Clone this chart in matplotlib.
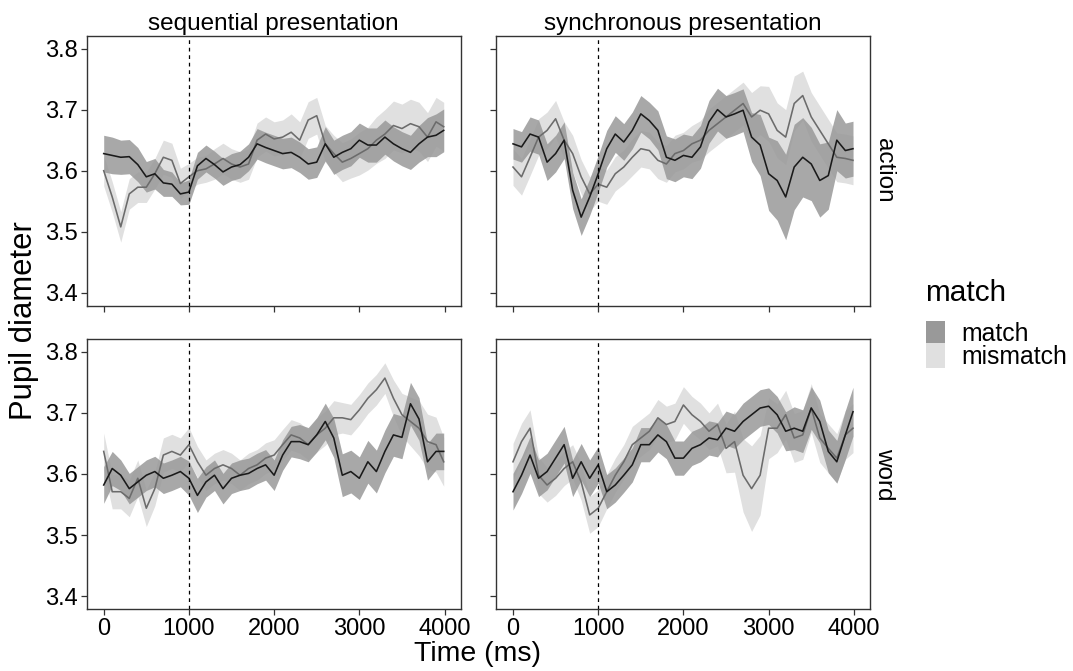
import numpy as np
import matplotlib
matplotlib.use("Agg")
import matplotlib.pyplot as plt
from matplotlib.patches import Rectangle

plt.rcParams['font.family'] = ['Liberation Sans', 'DejaVu Sans']

# ---------------- data ----------------
time_ms = [0, 100, 200, 300, 400, 500, 600, 700, 800, 900,
           1000, 1100, 1200, 1300, 1400, 1500, 1600, 1700, 1800, 1900,
           2000, 2100, 2200, 2300, 2400, 2500, 2600, 2700, 2800, 2900,
           3000, 3100, 3200, 3300, 3400, 3500, 3600, 3700, 3800, 3900, 3990]

columns = ["sequential presentation", "synchronous presentation"]
rows = ["action", "word"]
conditions = ["match", "mismatch"]

# sequential / action
seq_action_match = [3.628, 3.625, 3.622, 3.623, 3.610, 3.590, 3.595, 3.580, 3.578, 3.562,
                    3.565, 3.608, 3.620, 3.610, 3.598, 3.606, 3.610, 3.622, 3.644, 3.638,
                    3.633, 3.628, 3.630, 3.622, 3.611, 3.614, 3.644, 3.622, 3.630, 3.636,
                    3.650, 3.642, 3.642, 3.655, 3.644, 3.636, 3.630, 3.644, 3.655, 3.658, 3.666]
seq_action_match_se = [0.030, 0.030, 0.028, 0.028, 0.028, 0.025, 0.025, 0.022, 0.020, 0.018,
                       0.020, 0.022, 0.022, 0.022, 0.022, 0.022, 0.022, 0.022, 0.025, 0.025,
                       0.025, 0.025, 0.025, 0.025, 0.025, 0.025, 0.028, 0.028, 0.028, 0.028,
                       0.028, 0.028, 0.028, 0.028, 0.028, 0.028, 0.028, 0.030, 0.032, 0.035, 0.035]
seq_action_mismatch = [3.600, 3.557, 3.508, 3.562, 3.573, 3.573, 3.595, 3.622, 3.617, 3.579,
                       3.590, 3.600, 3.603, 3.611, 3.620, 3.611, 3.606, 3.611, 3.650, 3.660,
                       3.652, 3.655, 3.663, 3.650, 3.683, 3.690, 3.644, 3.628, 3.614, 3.620,
                       3.628, 3.636, 3.650, 3.660, 3.674, 3.669, 3.677, 3.672, 3.655, 3.680, 3.672]
seq_action_mismatch_se = [0.025, 0.025, 0.025, 0.025, 0.025, 0.025, 0.025, 0.028, 0.028, 0.025,
                          0.022, 0.022, 0.022, 0.025, 0.025, 0.025, 0.025, 0.025, 0.028, 0.028,
                          0.028, 0.028, 0.030, 0.030, 0.030, 0.030, 0.030, 0.030, 0.032, 0.032,
                          0.035, 0.035, 0.038, 0.040, 0.040, 0.040, 0.040, 0.040, 0.040, 0.040, 0.040]

# synchronous / action
syn_action_match = [3.644, 3.639, 3.660, 3.655, 3.614, 3.628, 3.650, 3.568, 3.524, 3.557,
                    3.595, 3.636, 3.660, 3.647, 3.666, 3.693, 3.682, 3.666, 3.622, 3.617,
                    3.625, 3.622, 3.639, 3.680, 3.700, 3.688, 3.693, 3.699, 3.655, 3.642,
                    3.595, 3.584, 3.557, 3.606, 3.622, 3.611, 3.584, 3.592, 3.650, 3.633, 3.636]
syn_action_match_se = [0.025, 0.025, 0.028, 0.028, 0.030, 0.030, 0.030, 0.030, 0.030, 0.030,
                       0.030, 0.030, 0.030, 0.030, 0.030, 0.030, 0.030, 0.032, 0.035, 0.035,
                       0.035, 0.035, 0.035, 0.035, 0.035, 0.035, 0.035, 0.035, 0.040, 0.050,
                       0.060, 0.065, 0.070, 0.070, 0.065, 0.060, 0.060, 0.055, 0.050, 0.045, 0.045]
syn_action_mismatch = [3.606, 3.590, 3.622, 3.655, 3.666, 3.685, 3.650, 3.628, 3.590, 3.562,
                       3.578, 3.573, 3.595, 3.606, 3.622, 3.636, 3.633, 3.617, 3.611, 3.628,
                       3.633, 3.644, 3.650, 3.666, 3.677, 3.688, 3.699, 3.710, 3.688, 3.699,
                       3.693, 3.666, 3.655, 3.710, 3.723, 3.688, 3.666, 3.644, 3.622, 3.620, 3.617]
syn_action_mismatch_se = [0.030, 0.030, 0.030, 0.030, 0.030, 0.030, 0.030, 0.030, 0.028, 0.028,
                          0.028, 0.028, 0.028, 0.028, 0.030, 0.030, 0.030, 0.030, 0.030, 0.030,
                          0.030, 0.030, 0.032, 0.035, 0.035, 0.035, 0.035, 0.035, 0.040, 0.040,
                          0.045, 0.045, 0.045, 0.045, 0.040, 0.040, 0.040, 0.040, 0.040, 0.040, 0.040]

# sequential / word
seq_word_match = [3.582, 3.609, 3.598, 3.576, 3.587, 3.598, 3.604, 3.593, 3.598, 3.604,
                  3.593, 3.565, 3.587, 3.598, 3.576, 3.593, 3.598, 3.601, 3.609, 3.615,
                  3.598, 3.631, 3.653, 3.653, 3.648, 3.664, 3.686, 3.659, 3.598, 3.604,
                  3.593, 3.620, 3.604, 3.637, 3.664, 3.660, 3.715, 3.690, 3.620, 3.637, 3.637]
seq_word_match_se = [0.030, 0.028, 0.025, 0.025, 0.025, 0.025, 0.025, 0.025, 0.025, 0.025,
                     0.028, 0.028, 0.025, 0.025, 0.025, 0.025, 0.025, 0.025, 0.025, 0.025,
                     0.025, 0.025, 0.025, 0.028, 0.028, 0.028, 0.030, 0.032, 0.035, 0.035,
                     0.035, 0.035, 0.035, 0.035, 0.035, 0.035, 0.035, 0.035, 0.030, 0.030, 0.030]
seq_word_mismatch = [3.637, 3.571, 3.571, 3.560, 3.593, 3.544, 3.576, 3.631, 3.637, 3.631,
                     3.648, 3.620, 3.598, 3.609, 3.615, 3.609, 3.598, 3.609, 3.615, 3.626,
                     3.631, 3.648, 3.664, 3.659, 3.648, 3.664, 3.675, 3.692, 3.692, 3.689,
                     3.705, 3.724, 3.738, 3.757, 3.724, 3.697, 3.686, 3.675, 3.653, 3.648, 3.620]
seq_word_mismatch_se = [0.030, 0.028, 0.028, 0.030, 0.030, 0.030, 0.028, 0.028, 0.028, 0.028,
                        0.028, 0.025, 0.025, 0.025, 0.025, 0.025, 0.025, 0.025, 0.025, 0.025,
                        0.025, 0.025, 0.025, 0.025, 0.025, 0.028, 0.028, 0.028, 0.025, 0.025,
                        0.025, 0.025, 0.025, 0.025, 0.030, 0.035, 0.040, 0.045, 0.045, 0.045, 0.040]

# synchronous / word
syn_word_match = [3.571, 3.598, 3.631, 3.593, 3.604, 3.626, 3.648, 3.593, 3.620, 3.593,
                  3.615, 3.571, 3.582, 3.598, 3.615, 3.648, 3.648, 3.664, 3.653, 3.626,
                  3.626, 3.642, 3.648, 3.659, 3.656, 3.675, 3.670, 3.686, 3.697, 3.708,
                  3.711, 3.697, 3.670, 3.675, 3.670, 3.708, 3.686, 3.637, 3.620, 3.664, 3.702]
syn_word_match_se = [0.030, 0.030, 0.030, 0.030, 0.030, 0.030, 0.030, 0.030, 0.030, 0.030,
                     0.030, 0.028, 0.028, 0.028, 0.028, 0.028, 0.028, 0.028, 0.028, 0.028,
                     0.028, 0.028, 0.028, 0.028, 0.028, 0.028, 0.028, 0.030, 0.030, 0.030,
                     0.030, 0.030, 0.032, 0.035, 0.035, 0.035, 0.035, 0.035, 0.035, 0.040, 0.040]
syn_word_mismatch = [3.620, 3.653, 3.675, 3.598, 3.582, 3.593, 3.609, 3.620, 3.587, 3.533,
                     3.544, 3.571, 3.598, 3.620, 3.648, 3.659, 3.670, 3.692, 3.681, 3.686,
                     3.713, 3.697, 3.686, 3.670, 3.681, 3.642, 3.653, 3.598, 3.576, 3.598,
                     3.675, 3.675, 3.697, 3.659, 3.664, 3.708, 3.659, 3.642, 3.626, 3.664, 3.675]
syn_word_mismatch_se = [0.030, 0.030, 0.030, 0.030, 0.028, 0.028, 0.028, 0.028, 0.030, 0.030,
                        0.030, 0.028, 0.028, 0.028, 0.030, 0.030, 0.030, 0.030, 0.030, 0.030,
                        0.030, 0.030, 0.030, 0.030, 0.035, 0.040, 0.050, 0.060, 0.070, 0.065,
                        0.050, 0.040, 0.040, 0.040, 0.040, 0.040, 0.040, 0.040, 0.040, 0.040, 0.040]

panel_data = {
    ("action", "sequential presentation"): (seq_action_match, seq_action_match_se,
                                           seq_action_mismatch, seq_action_mismatch_se),
    ("action", "synchronous presentation"): (syn_action_match, syn_action_match_se,
                                            syn_action_mismatch, syn_action_mismatch_se),
    ("word", "sequential presentation"): (seq_word_match, seq_word_match_se,
                                         seq_word_mismatch, seq_word_mismatch_se),
    ("word", "synchronous presentation"): (syn_word_match, syn_word_match_se,
                                          syn_word_mismatch, syn_word_mismatch_se),
}

y_ticks = [3.4, 3.5, 3.6, 3.7, 3.8]
x_ticks = [0, 1000, 2000, 3000, 4000]
onset_ms = 1000

# ---------------- styling ----------------
W, H = 1073, 671
fig = plt.figure(figsize=(W / 100, H / 100), dpi=100)

fill_match = "#999999"
fill_mismatch = "#e0e0e0"
line_match = "#1a1a1a"
line_mismatch = "#6b6b6b"

col_left = [86.7, 496.0]
panel_w = 374.0
row_top = [35.7, 339.0]
panel_h = 270.0

t = np.array(time_ms, dtype=float)

for ri, row in enumerate(rows):
    for ci, col in enumerate(columns):
        left = col_left[ci] / W
        bottom = 1 - (row_top[ri] + panel_h) / H
        ax = fig.add_axes([left, bottom, panel_w / W, panel_h / H])
        m, mse, mm, mmse = [np.array(a) for a in panel_data[(row, col)]]

        ax.fill_between(t, mm - mmse, mm + mmse, color=fill_mismatch, lw=0, zorder=1)
        ax.fill_between(t, m - mse, m + mse, color=fill_match, alpha=0.85, lw=0, zorder=2)
        ax.plot(t, mm, color=line_mismatch, lw=1.15, zorder=3)
        ax.plot(t, m, color=line_match, lw=1.15, zorder=4)
        ax.axvline(onset_ms, color="black", lw=0.9, ls=(0, (3, 3)), zorder=5)

        ax.set_xlim(-199.5, 4189.5)
        ax.set_ylim(3.379, 3.821)
        ax.set_yticks(y_ticks)
        ax.set_xticks(x_ticks)
        for s in ax.spines.values():
            s.set_color("#333333")
            s.set_linewidth(1.0)
        ax.tick_params(length=4, width=0.9, color="#333333", labelsize=17,
                       labelcolor="black", pad=2.5)
        if ci == 1:
            ax.set_yticklabels([])
        else:
            ax.set_yticklabels([f"{v:.1f}" for v in y_ticks])
        if ri == 0:
            ax.set_xticklabels([])
            fig.text((col_left[ci] + panel_w / 2) / W, 1 - 30 / H, col,
                     ha="center", va="baseline", fontsize=17.5)
        else:
            ax.set_xticklabels([str(v) for v in x_ticks])
        if ci == 1:
            ax.text(1.008, 0.5, row, transform=ax.transAxes, rotation=-90,
                    ha="left", va="center", fontsize=17.5)

fig.text(24 / W, 1 - 321 / H, "Pupil diameter", rotation=90, ha="center",
         va="center", fontsize=22.3)
fig.text(478 / W, 1 - 654 / H, "Time (ms)", ha="center", va="center", fontsize=20.5)

# legend
fig.text(925 / W, 1 - 293 / H, "match", ha="left", va="center", fontsize=21.4)
fig.add_artist(Rectangle((925.7 / W, 1 - 343.3 / H), 19.3 / W, 22.3 / H,
                         transform=fig.transFigure, color=fill_match, lw=0))
fig.add_artist(Rectangle((925.7 / W, 1 - 367.7 / H), 19.3 / W, 24.4 / H,
                         transform=fig.transFigure, color=fill_mismatch, lw=0))
fig.text(961.7 / W, 1 - 334 / H, conditions[0], ha="left", va="center", fontsize=17.8)
fig.text(961.7 / W, 1 - 357 / H, conditions[1], ha="left", va="center", fontsize=17.8)

fig.savefig("out.png", dpi=100)
